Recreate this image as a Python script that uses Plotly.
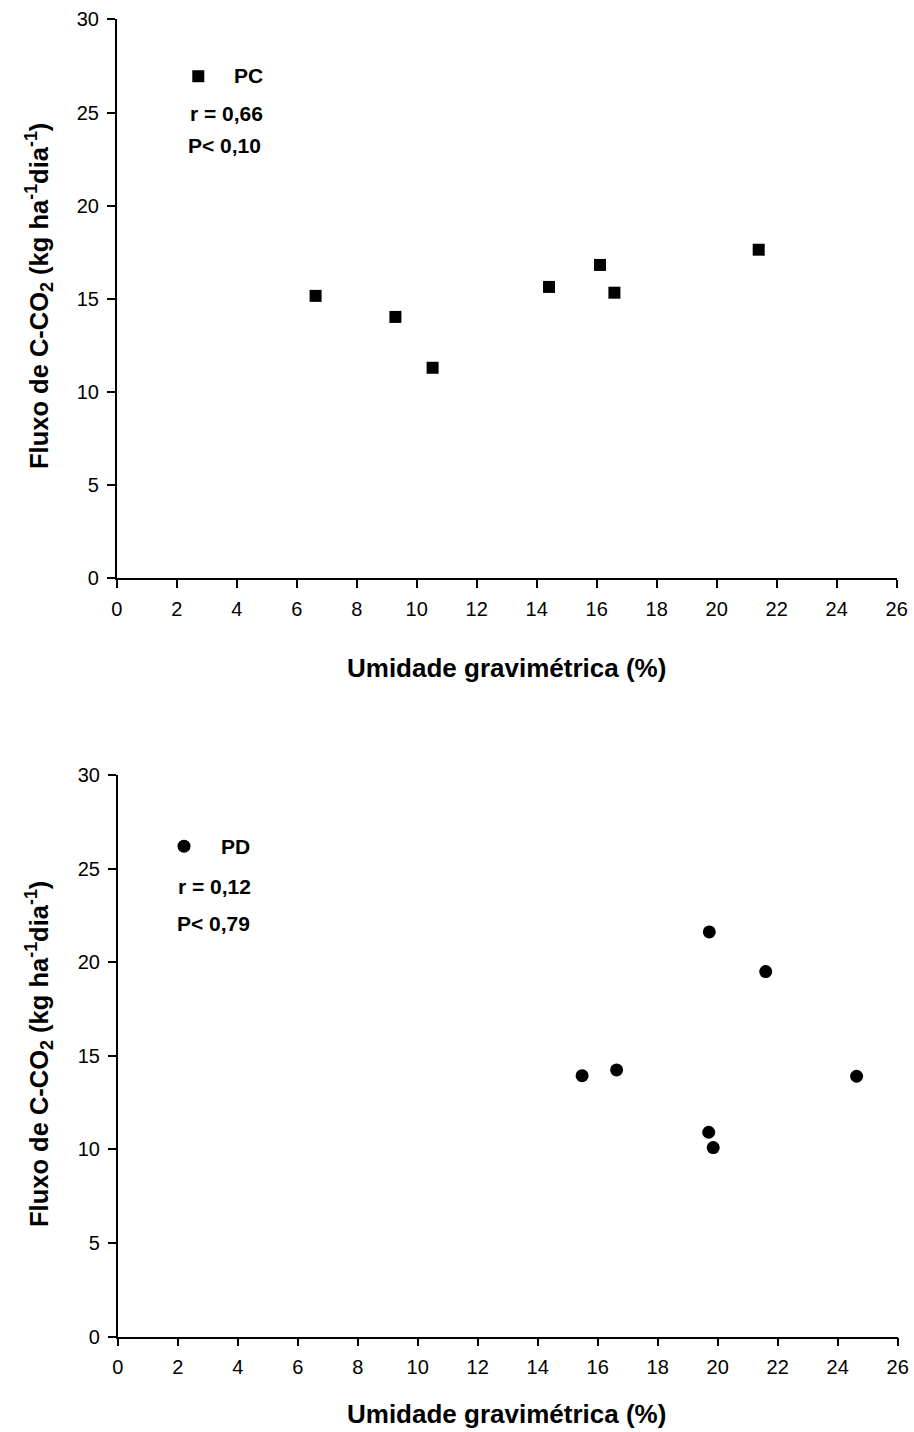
import plotly.graph_objects as go

# Data
pc_umidade = [6.63, 9.29, 10.53, 14.41, 16.11, 16.59, 21.40]
pc_fluxo = [15.16, 14.03, 11.30, 15.64, 16.82, 15.33, 17.64]
pd_umidade = [19.72, 21.60, 15.48, 16.63, 24.63, 19.70, 19.85]
pd_fluxo = [21.62, 19.50, 13.94, 14.25, 13.91, 10.92, 10.10]

x_ticks = list(range(0, 27, 2))
y_ticks = list(range(0, 31, 5))

W, H = 914, 1432
ML, MR, MT, MB = 10, 10, 10, 10
PW, PH = W - ML - MR, H - MT - MB
OFF = 0  # page body margin (removed via post_script)
FONT = "Liberation Sans, Arial, sans-serif"


def px_x(p):
    return (p - OFF - ML) / PW


def px_y(p):
    return (H - MB - (p - OFF)) / PH


fig = go.Figure()

fig.add_trace(go.Scatter(x=pc_umidade, y=pc_fluxo, mode="markers",
                         marker=dict(symbol="square", size=12, color="black"),
                         xaxis="x", yaxis="y", showlegend=False))
fig.add_trace(go.Scatter(x=pd_umidade, y=pd_fluxo, mode="markers",
                         marker=dict(symbol="circle", size=13, color="black"),
                         xaxis="x2", yaxis="y2", showlegend=False))

axis_common = dict(showgrid=False, zeroline=False, showline=True, linecolor="black",
                   linewidth=1.5, ticks="outside", ticklen=8, tickwidth=1.5,
                   tickcolor="black", automargin=False, ticklabelstandoff=4,
                   tickfont=dict(family=FONT, size=20, color="black"))

fig.update_layout(
    width=W, height=H,
    margin=dict(l=ML, r=MR, t=MT, b=MB, autoexpand=False),
    paper_bgcolor="white", plot_bgcolor="white",
    xaxis=dict(domain=[px_x(116.7), px_x(896.7)], range=[0, 26], tickvals=x_ticks,
               anchor="y", **axis_common),
    yaxis=dict(domain=[px_y(578.3), px_y(19.4)], range=[0, 30], tickvals=y_ticks,
               anchor="x", **axis_common),
    xaxis2=dict(domain=[px_x(117.7), px_x(897.7)], range=[0, 26], tickvals=x_ticks,
                anchor="y2", **axis_common),
    yaxis2=dict(domain=[px_y(1336.7), px_y(775)], range=[0, 30], tickvals=y_ticks,
                anchor="x2", **axis_common),
)

ann = []


def add_text(text, x, y, size=18, xanchor="center", angle=0):
    ann.append(dict(text=text, x=px_x(x), y=px_y(y), xref="paper", yref="paper",
                    showarrow=False, xanchor=xanchor, yanchor="middle", textangle=angle,
                    font=dict(family=FONT, size=size, color="black")))


# axis titles
add_text("<b>Umidade gravimétrica (%)</b>", 507, 668, size=26)
add_text("<b>Umidade gravimétrica (%)</b>", 507, 1414, size=26)
ytitle = "<b>Fluxo de C-CO<sub>2</sub> (kg ha<sup>-1</sup>dia<sup>-1</sup>)</b>"
add_text(ytitle, 39, 296, size=25.5, angle=-90)
add_text(ytitle, 39, 1054, size=25.5, angle=-90)

# legends / stats
add_text("<b>PC</b>", 265, 76, size=21, xanchor="right")
add_text("<b>r = 0,66</b>", 265, 113, size=21, xanchor="right")
add_text("<b>P< 0,10</b>", 263, 145, size=21, xanchor="right")
add_text("<b>PD</b>", 252, 846, size=21, xanchor="right")
add_text("<b>r = 0,12</b>", 253, 886, size=21, xanchor="right")
add_text("<b>P< 0,79</b>", 252, 923, size=21, xanchor="right")
fig.update_layout(annotations=ann)

# legend markers
fig.add_trace(go.Scatter(x=[2.72], y=[26.95], mode="markers",
                         marker=dict(symbol="square", size=12, color="black"),
                         xaxis="x", yaxis="y", showlegend=False, cliponaxis=False))
fig.add_trace(go.Scatter(x=[2.21], y=[26.2], mode="markers",
                         marker=dict(symbol="circle", size=13, color="black"),
                         xaxis="x2", yaxis="y2", showlegend=False, cliponaxis=False))

fig.write_html("out.html", config={"displayModeBar": False},
               post_script="document.body.style.margin='0';document.body.style.overflow='hidden';")
